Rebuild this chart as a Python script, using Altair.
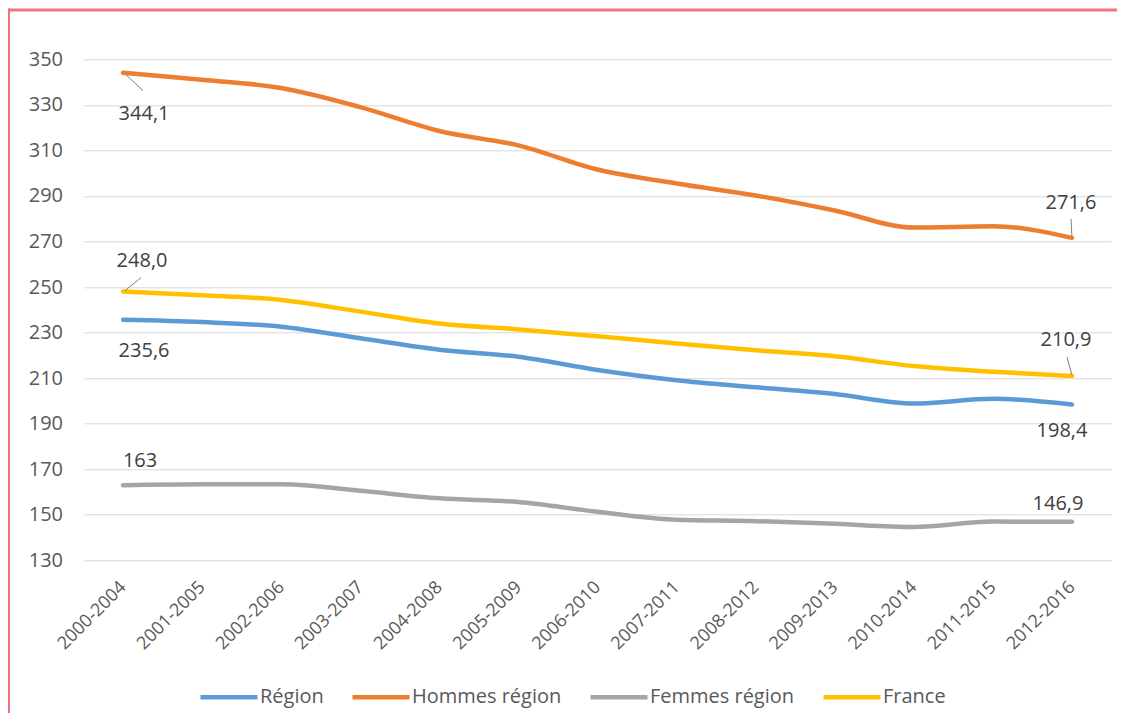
import altair as alt
import pandas as pd

FONT = "Open Sans"

periods = ["2000-2004", "2001-2005", "2002-2006", "2003-2007", "2004-2008",
           "2005-2009", "2006-2010", "2007-2011", "2008-2012", "2009-2013",
           "2010-2014", "2011-2015", "2012-2016"]
region = [235.6, 234.6, 232.6, 227.5, 222.5, 219.4, 213.6, 209.1, 206.0, 203.0, 198.8, 200.9, 198.4]
hommes = [344.1, 341.0, 337.4, 329.0, 318.5, 312.2, 301.6, 295.5, 290.2, 283.6, 276.1, 276.7, 271.6]
femmes = [163.0, 163.4, 163.4, 160.5, 157.2, 155.6, 151.3, 147.8, 147.2, 146.0, 144.6, 147.0, 146.9]
france = [248.0, 246.4, 244.3, 239.2, 234.0, 231.4, 228.4, 225.2, 222.2, 219.6, 215.3, 212.8, 210.9]

series_names = ["Région", "Hommes région", "Femmes région", "France"]
series_colors = ["#5B9BD5", "#ED7D31", "#A5A5A5", "#FFC000"]
y_ticks = [130, 150, 170, 190, 210, 230, 250, 270, 290, 310, 330, 350]

# data labels: (series index, period index, text, dx, dy)
label_series = [1, 1, 3, 3, 0, 0, 2, 2]
label_period = [0, 12, 0, 12, 0, 12, 0, 12]
label_text = ["344,1", "271,6", "248,0", "210,9", "235,6", "198,4", "163", "146,9"]
label_dx = [21, -1, 19, -6, 21, -10, 17, -14]
label_dy = [41, -35, -31, -36, 31, 26, -24, -18]

# leader lines: (series index, period index, offsets)
leader_series = [1, 3, 1, 3]
leader_period = [0, 0, 12, 12]
leader_off = [(3, 2, 20, 18), (2, -1, 18, -14), (0, -1, -1, -19), (0, -1, -5, -19)]

all_vals = [region, hommes, femmes, france]

rows = []
for name, vals in zip(series_names, all_vals):
    for p, v in zip(periods, vals):
        rows.append({"serie": name, "periode": p, "valeur": v})
df = pd.DataFrame(rows)

W, H = 1028, 501
PAD_L, PAD_T, PAD_R, PAD_B = 75.5, 51.3, 5.5, 153

x_enc = alt.X("periode:O", sort=periods, title=None,
              scale=alt.Scale(type="point", padding=0.5),
              axis=alt.Axis(labelAngle=-45, labelAlign="right", labelBaseline="middle",
                            labelPadding=24, ticks=False, domain=False, grid=False,
                            labelFontSize=18, labelColor="#595959", labelFont=FONT))
y_enc = alt.Y("valeur:Q", title=None,
              scale=alt.Scale(domain=[130, 350], nice=False, zero=False),
              axis=alt.Axis(values=y_ticks, ticks=False, domain=False, grid=True,
                            gridColor="#D9D9D9", gridWidth=1, labelPadding=21,
                            labelFontSize=20, labelColor="#595959", labelFont=FONT))

lines = alt.Chart(df).mark_line(strokeWidth=4.5, interpolate="monotone", strokeCap="round").encode(
    x=x_enc, y=y_enc,
    color=alt.Color("serie:N",
                    scale=alt.Scale(domain=series_names, range=series_colors),
                    legend=alt.Legend(orient="none", legendX=110.5, legendY=607,
                                      direction="horizontal", columns=4, title=None,
                                      symbolType="stroke", symbolSize=3249,
                                      symbolStrokeWidth=4.5, symbolOffset=4,
                                      labelOffset=0,
                                      columnPadding=19, labelFontSize=20,
                                      labelColor="#595959", labelFont=FONT,
                                      labelLimit=400, padding=0)),
)

layers = [lines]

for si, pi, off in zip(leader_series, leader_period, leader_off):
    d = pd.DataFrame([{"periode": periods[pi], "valeur": all_vals[si][pi]}])
    layers.append(
        alt.Chart(d).mark_rule(color="#7F7F7F", strokeWidth=1,
                               xOffset=off[0], yOffset=off[1],
                               x2Offset=off[2], y2Offset=off[3]).encode(
            x=x_enc, y=y_enc, x2=alt.X2("periode:O"), y2=alt.Y2("valeur:Q"))
    )

for si, pi, t, dx, dy in zip(label_series, label_period, label_text, label_dx, label_dy):
    d = pd.DataFrame([{"periode": periods[pi], "valeur": all_vals[si][pi], "texte": t}])
    layers.append(
        alt.Chart(d).mark_text(font=FONT, fontSize=20, color="#404040",
                               align="center", baseline="middle", dx=dx, dy=dy).encode(
            x=x_enc, y=y_enc, text="texte:N")
    )

# decorative frame (top and left edges) around the figure
frame_df = pd.DataFrame({"k": [0]})
top_edge = alt.Chart(frame_df).mark_rule(color="#F0747F", strokeWidth=3).encode(
    x=alt.value(-PAD_L), x2=alt.value(W + PAD_R), y=alt.value(-PAD_T + 2))
left_edge = alt.Chart(frame_df).mark_rule(color="#F0747F", strokeWidth=3).encode(
    x=alt.value(-PAD_L + 0.5), y=alt.value(-PAD_T + 0.5), y2=alt.value(H + PAD_B))
layers += [top_edge, left_edge]

chart = alt.layer(*layers).properties(
    width=W, height=H,
    autosize=alt.AutoSizeParams(type="none"),
    padding={"left": PAD_L, "top": PAD_T, "right": PAD_R, "bottom": PAD_B},
    background="white",
).configure_view(stroke=None)

chart.save("out.html", embed_options={"renderer": "svg", "actions": False})
